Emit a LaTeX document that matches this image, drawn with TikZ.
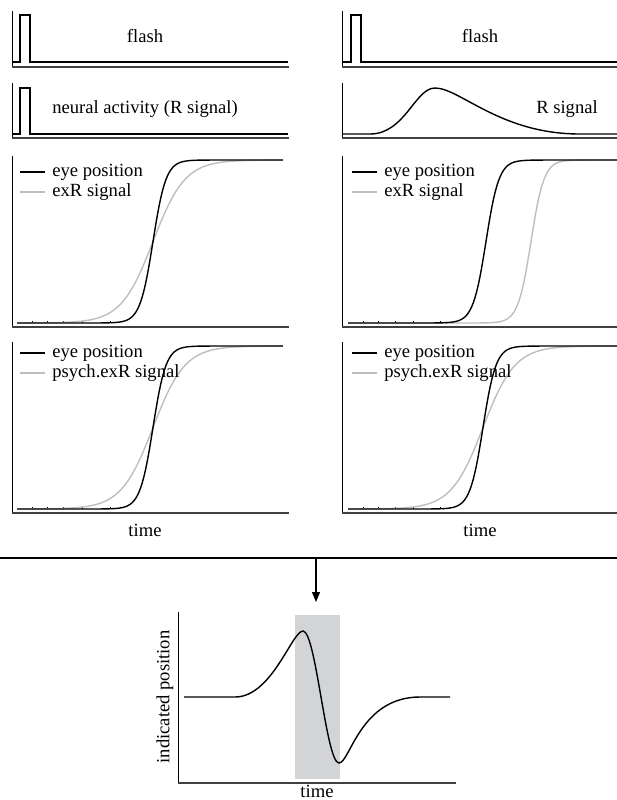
\documentclass[tikz,border=0pt]{standalone}
\usepackage{fontspec}
\setmainfont{Liberation Serif}
\usetikzlibrary{positioning,calc}
\usetikzlibrary{arrows.meta}
\definecolor{TraceGray}{RGB}{190,190,190}
\definecolor{WindowGray}{RGB}{211,212,214}
\tikzset{yax/.style={draw=black,line width=0.5pt}, xax/.style={draw=black!75,line width=1pt}, trace/.style={draw=black,line width=0.7pt}, exr/.style={draw=TraceGray,line width=0.7pt}, lab/.style={inner sep=0pt,font=\fontsize{9.3}{11}\selectfont}, arr/.style={draw=black,line width=0.6pt,-{Triangle[length=5pt,width=4pt]}}}

\begin{document}
\begin{tikzpicture}[x=0.5pt,y=-0.5pt,declare function={sig(\t)=1/(1+exp(-max(min(\t,9),-9)));}]
\useasboundingbox (0,0) rectangle (617,800);
% row 1: flash
\draw[yax] (12,11) -- (12,67);
\draw[xax] (12,67) -- (289,67);
\draw[trace] (12,62) -- (20,62) -- (20,15) -- (30,15) -- (30,62) -- (288,62);
\node[lab] (flashL) at (145,36) {flash};
\draw[yax] (342,11) -- (342,67);
\draw[xax] (342,67) -- (617,67);
\draw[trace] (342,62) -- (351,62) -- (351,15) -- (361,15) -- (361,62) -- (617,62);
\node[lab] (flashR) at (480,36) {flash};
% row 2: R signal
\draw[yax] (12,83) -- (12,138);
\draw[xax] (12,138) -- (289,138);
\draw[trace] (12,134) -- (20,134) -- (20,88) -- (30,88) -- (30,134) -- (288,134);
\node[lab] (neural) at (145,109) {neural activity (R signal)};
\draw[yax] (342,83) -- (342,138);
\draw[xax] (342,138) -- (617,138);
\draw[trace] (343,134) -- (370,134) .. controls (405,134) and (415,88) .. (435,88) .. controls (460,88) and (500,134) .. (580,134) -- (617,134);
\node[lab] (rsig) at (567,109) {R signal};
% row 3: eye position vs exR
\draw[yax] (12,156) -- (12,327);
\draw[xax] (12,327) -- (289,327);
\foreach \tx in {32,47,63,82,110} \draw[trace,line width=0.4pt] (\tx,323) -- (\tx,320.5);
\draw[exr] plot[domain=17:283,samples=140] (\x,{323-163*sig((\x-153)/16)});
\draw[trace] plot[domain=17:283,samples=160] (\x,{323-163*sig((\x-153)/6.5)});
\draw[trace] (20,172) -- (45,172);
\node[lab,anchor=west] (eyeA) at (52,172) {eye position};
\draw[exr] (20,192) -- (45,192);
\node[lab,anchor=west] (exrA) at (52,192) {exR signal};
\draw[yax] (342,156) -- (342,327);
\draw[xax] (342,327) -- (617,327);
\foreach \tx in {363,378,395,413,440} \draw[trace,line width=0.4pt] (\tx,323) -- (\tx,320.5);
\draw[exr] plot[domain=348:617,samples=160] (\x,{323-163*sig((\x-531)/6.5)});
\draw[trace] plot[domain=348:617,samples=160] (\x,{323-163*sig((\x-486)/6.5)});
\draw[trace] (352,172) -- (377,172);
\node[lab,anchor=west] (eyeB) at (384,172) {eye position};
\draw[exr] (352,192) -- (377,192);
\node[lab,anchor=west] (exrB) at (384,192) {exR signal};
% row 4: eye position vs psych.exR
\draw[yax] (12,342) -- (12,513);
\draw[xax] (12,513) -- (289,513);
\foreach \tx in {32,47,63,82,110} \draw[trace,line width=0.4pt] (\tx,509) -- (\tx,506.5);
\draw[exr] plot[domain=17:283,samples=140] (\x,{509-163*sig((\x-153)/16)});
\draw[trace] plot[domain=17:283,samples=160] (\x,{509-163*sig((\x-153)/6.5)});
\draw[trace] (20,353) -- (45,353);
\node[lab,anchor=west] (eyeC) at (52,353) {eye position};
\draw[exr] (20,373) -- (45,373);
\node[lab,anchor=west] (psyA) at (52,373) {psych.exR signal};
\node[lab] (timeL) at (145,530) {time};
\draw[yax] (342,342) -- (342,513);
\draw[xax] (342,513) -- (617,513);
\foreach \tx in {363,378,395,413,440} \draw[trace,line width=0.4pt] (\tx,509) -- (\tx,506.5);
\draw[exr] plot[domain=348:617,samples=140] (\x,{509-163*sig((\x-483)/16)});
\draw[trace] plot[domain=348:617,samples=160] (\x,{509-163*sig((\x-483)/6.5)});
\draw[trace] (352,353) -- (377,353);
\node[lab,anchor=west] (eyeD) at (384,353) {eye position};
\draw[exr] (352,373) -- (377,373);
\node[lab,anchor=west] (psyB) at (384,373) {psych.exR signal};
\node[lab] (timeR) at (480,530) {time};
% separator and arrow
\coordinate (sepL) at (0,558);
\coordinate (sepR) at (617,558);
\coordinate (sepmid) at (316,558);
\coordinate (arrend) at (316,602);
\draw[line width=0.6pt] (sepL) -- (sepR);
\draw[arr] (sepmid) -- (arrend);
% bottom: indicated position
\fill[WindowGray] (295,615) rectangle (340,779);
\draw[yax] (178,612) -- (178,783);
\draw[xax] (178,783) -- (456,783);
\draw[trace] (184,697) -- (235,697) .. controls (272,697) and (292,631) .. (303,631) .. controls (316,631) and (326,763) .. (339,763) .. controls (350,763) and (360,697) .. (420,697) -- (450,697);
\node[lab,rotate=90] (indpos) at (165,697) {indicated position};
\node[lab] (timeB) at (317,791) {time};
\end{tikzpicture}
\end{document}
